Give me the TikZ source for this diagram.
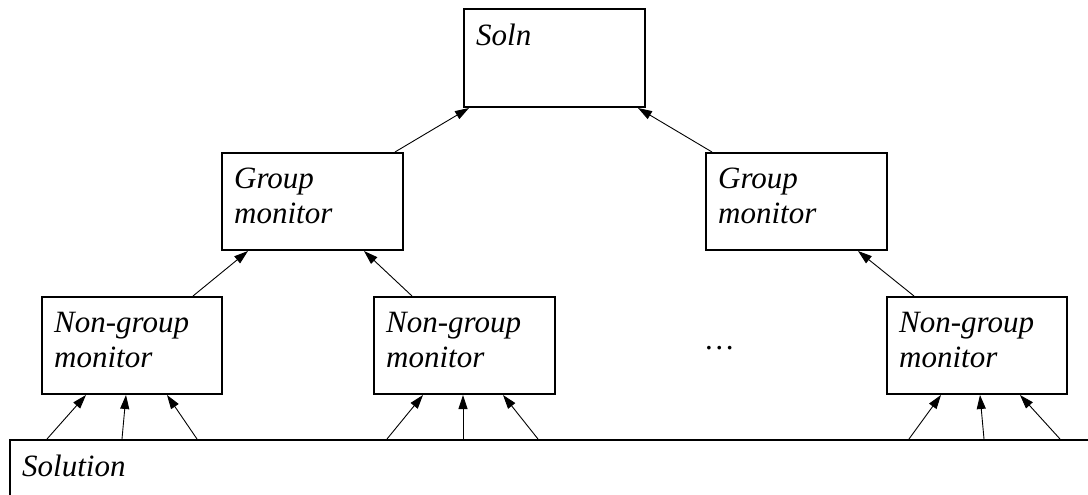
\documentclass[tikz,border=0pt]{standalone}
\usepackage{fontspec}
\setmainfont{Liberation Serif}
\usetikzlibrary{arrows.meta}
\begin{document}
\begin{tikzpicture}[x=1pt,y=-1pt,
  box/.style={draw, line width=2pt, inner sep=0pt, anchor=north west},
  txt/.style={anchor=north west, inner sep=0pt, align=left, font=\fontsize{31}{35}\selectfont\itshape},
  arr/.style={line width=0.9pt, -{Triangle[length=14pt,width=9pt]}}]
\clip (0,0) rectangle (1088,495);
\fill[white] (0,0) rectangle (1088,495);
% boxes
\node[box, minimum width=181pt, minimum height=98pt] (soln) at (463,8) {};
\node[box, minimum width=181pt, minimum height=97pt] (g1) at (221,152) {};
\node[box, minimum width=181pt, minimum height=97pt] (g2) at (705,152) {};
\node[box, minimum width=180pt, minimum height=97pt] (n1) at (41,296) {};
\node[box, minimum width=181pt, minimum height=97pt] (n2) at (373,296) {};
\node[box, minimum width=180pt, minimum height=97pt] (n3) at (886,296) {};
\node[box, minimum width=1200pt, minimum height=120pt] (sol) at (9,439) {};
% texts
\node[txt] (tsoln) at ([shift={(13pt,-16pt)}]soln.north west) {Soln};
\node[txt] (tg1) at ([shift={(13pt,-16pt)}]g1.north west) {Group\\monitor};
\node[txt] (tg2) at ([shift={(13pt,-16pt)}]g2.north west) {Group\\monitor};
\node[txt] (tn1) at ([shift={(13pt,-16pt)}]n1.north west) {Non-group\\monitor};
\node[txt] (tn2) at ([shift={(13pt,-16pt)}]n2.north west) {Non-group\\monitor};
\node[txt] (tn3) at ([shift={(13pt,-16pt)}]n3.north west) {Non-group\\monitor};
\node[txt] (tsol) at ([shift={(13pt,-16pt)}]sol.north west) {Solution};
\node[txt, anchor=base west] (dots) at (706,349) {\ldots};
% arrows from Solution to non-group monitors
\coordinate (a1) at (47,439);  \coordinate (a2) at (122,439); \coordinate (a3) at (197,439);
\coordinate (b1) at (387,439); \coordinate (b2) at (463,439); \coordinate (b3) at (538,439);
\coordinate (c1) at (909,439); \coordinate (c2) at (984,439); \coordinate (c3) at (1060,439);
\draw[arr] (a1) -- ([xshift=45pt]n1.south west);
\draw[arr] (a2) -- ([xshift=85pt]n1.south west);
\draw[arr] (a3) -- ([xshift=126pt]n1.south west);
\draw[arr] (b1) -- ([xshift=50pt]n2.south west);
\draw[arr] (b2) -- ([xshift=90pt]n2.south west);
\draw[arr] (b3) -- ([xshift=130pt]n2.south west);
\draw[arr] (c1) -- ([xshift=55pt]n3.south west);
\draw[arr] (c2) -- ([xshift=94pt]n3.south west);
\draw[arr] (c3) -- ([xshift=134pt]n3.south west);
% non-group to group
\draw[arr] ([xshift=152pt]n1.north west) -- ([xshift=27pt]g1.south west);
\draw[arr] ([xshift=39pt]n2.north west) -- ([xshift=143pt]g1.south west);
\draw[arr] ([xshift=28pt]n3.north west) -- ([xshift=153pt]g2.south west);
% group to soln
\draw[arr] ([xshift=174pt]g1.north west) -- ([xshift=6pt]soln.south west);
\draw[arr] ([xshift=7pt]g2.north west) -- ([xshift=175pt]soln.south west);
\end{tikzpicture}
\end{document}
